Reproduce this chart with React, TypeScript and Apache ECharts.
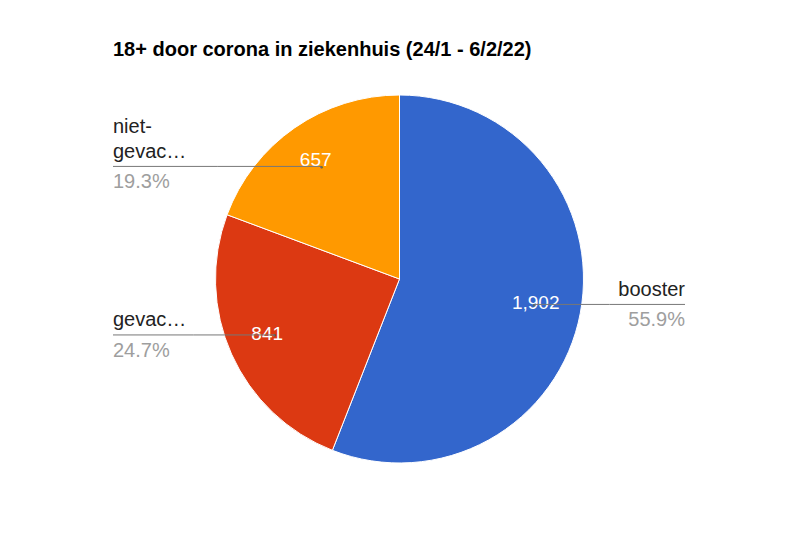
import { useEffect, useRef } from "react";
import * as echarts from "echarts";

const categories = ["booster", "gevac…", "niet-gevac…"];
const values = [1902, 841, 657];
const colors = ["#3366cc", "#dc3912", "#ff9900"];

const FONT = "'Liberation Sans', Arial, sans-serif";
const CX = 399.5;
const CY = 279;
const R = 184;
const LEFT_EDGE = 113;
const RIGHT_EDGE = 685;

// mid angle of every slice, clockwise from 12 o'clock
const total = values.reduce((a, b) => a + b, 0);
const midAngles: number[] = [];
let acc = 0;
for (const v of values) {
  midAngles.push(((acc + v / 2) / total) * 360);
  acc += v;
}

function pointAt(i: number, k: number): [number, number] {
  const a = (midAngles[i] * Math.PI) / 180;
  const r = R * k;
  return [CX + r * Math.sin(a), CY - r * Math.cos(a)];
}

export default function App() {
  const chartRef = useRef<HTMLDivElement | null>(null);

  useEffect(() => {
    if (!chartRef.current) return;
    document.body.style.margin = "0";
    const chart = echarts.init(chartRef.current, null, { renderer: "svg" });
    const data = categories.map((name, i) => ({
      name,
      value: values[i],
      itemStyle: { color: colors[i] }
    }));
    const base = {
      type: "pie" as const,
      center: [CX, CY],
      radius: R,
      startAngle: 90,
      clockwise: true,
      avoidLabelOverlap: false,
      emphasis: { disabled: true },
      data
    };
    const hidden = {
      color: "transparent",
      borderWidth: 0
    };
    const ghost = data.map((d) => ({ ...d, itemStyle: hidden }));
    chart.setOption({
      animation: false,
      backgroundColor: "#ffffff",
      title: {
        text: "18+ door corona in ziekenhuis (24/1 - 6/2/22)",
        left: 108,
        top: 34,
        textStyle: { fontFamily: FONT, fontSize: 20, fontWeight: "bold", color: "#000" }
      },
      series: [
        {
          ...base,
          z: 2,
          itemStyle: { borderColor: "#ffffff", borderWidth: 1 },
          label: {
            show: true,
            position: "inside",
            formatter: (p: any) => p.value.toLocaleString("en-US"),
            color: "#ffffff",
            fontFamily: FONT,
            fontSize: 19
          },
          labelLine: { show: false },
          labelLayout: (p: any) => {
            const [x, y] = pointAt(p.dataIndex, 0.77);
            return { x: x - 3, y: y - 3, align: "center", verticalAlign: "middle" };
          }
        },
        {
          ...base,
          z: 5,
          silent: true,
          data: ghost,
          label: {
            show: true,
            position: "outside",
            formatter: (p: any) => p.name.replace("-", "-\n"),
            color: "#222222",
            fontFamily: FONT,
            fontSize: 20,
            lineHeight: 25
          },
          labelLine: { show: true, lineStyle: { color: "#777777", width: 1 } },
          labelLayout: (p: any) => {
            const [x, y] = pointAt(p.dataIndex, 0.745);
            const left = x < CX;
            const ex = left ? LEFT_EDGE : RIGHT_EDGE;
            return {
              x: ex,
              y: y - 3,
              align: left ? "left" : "right",
              verticalAlign: "bottom",
              labelLinePoints: [
                [x, y],
                [(x + ex) / 2, y],
                [ex, y]
              ]
            };
          }
        },
        {
          ...base,
          z: 5,
          silent: true,
          data: ghost,
          label: {
            show: true,
            position: "outside",
            formatter: (p: any) => ((p.value / total) * 100).toFixed(1) + "%",
            color: "#9e9e9e",
            fontFamily: FONT,
            fontSize: 20
          },
          labelLine: { show: false },
          labelLayout: (p: any) => {
            const [x, y] = pointAt(p.dataIndex, 0.745);
            const left = x < CX;
            return {
              x: left ? LEFT_EDGE : RIGHT_EDGE,
              y: y + 5,
              align: left ? "left" : "right",
              verticalAlign: "top"
            };
          }
        },
        {
          // small dot at the start of each leader line
          ...base,
          z: 6,
          silent: true,
          data: ghost,
          label: {
            show: true,
            position: "inside",
            formatter: "●",
            color: "#666666",
            fontSize: 6,
            lineHeight: 6
          },
          labelLine: { show: false },
          labelLayout: (p: any) => {
            const [x, y] = pointAt(p.dataIndex, 0.745);
            return { x, y: y + 0.5, align: "center", verticalAlign: "middle" };
          }
        }
      ]
    });
    return () => {
      chart.dispose();
    };
  }, []);

  return <div ref={chartRef} style={{ width: 800, height: 546 }} />;
}
